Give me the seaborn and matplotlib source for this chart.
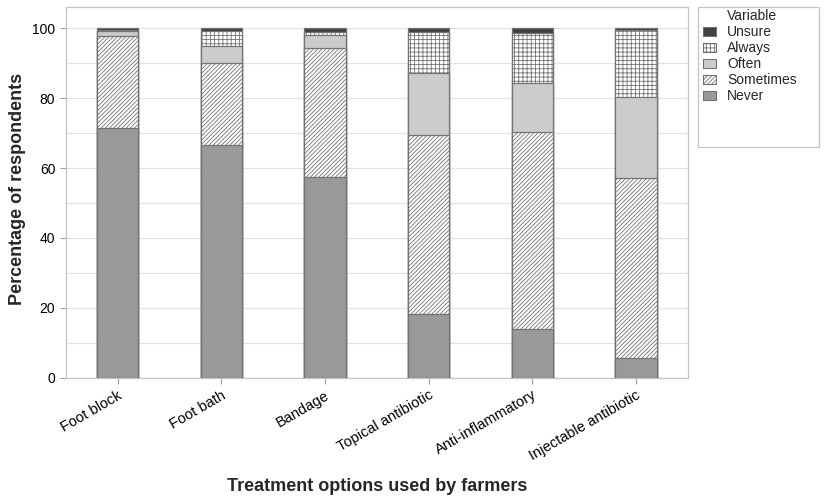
import numpy as np
import pandas as pd
import matplotlib.pyplot as plt
import seaborn as sns
from matplotlib.patches import Patch, Rectangle
from matplotlib.ticker import MultipleLocator

# data (percentages)
treatments = ["Foot block", "Foot bath", "Bandage", "Topical antibiotic",
              "Anti-inflammatory", "Injectable antibiotic"]
never = [71.5, 66.6, 57.4, 18.3, 13.9, 5.5]
sometimes = [26.3, 23.6, 36.9, 51.2, 56.3, 51.7]
often = [1.3, 4.7, 3.8, 17.6, 14.1, 23.2]
always = [0.4, 4.3, 0.8, 11.9, 14.3, 19.1]
unsure = [0.5, 0.8, 1.1, 1.0, 1.4, 0.5]

levels = ["Never", "Sometimes", "Often", "Always", "Unsure"]  # bottom -> top

sns.set_style("white")
plt.rcParams['font.family'] = ['Liberation Sans', 'DejaVu Sans']
plt.rcParams['hatch.linewidth'] = 0.6

df = pd.DataFrame({"treatment": treatments, "Never": never, "Sometimes": sometimes,
                   "Often": often, "Always": always, "Unsure": unsure})
cum = df[levels].cumsum(axis=1)
cum.insert(0, "treatment", treatments)

styles = {
    "Never": dict(color="#999999", hatch=None),
    "Sometimes": dict(color="#ffffff", hatch="////////"),
    "Often": dict(color="#cccccc", hatch=None),
    "Always": dict(color="#ffffff", hatch="++++"),
    "Unsure": dict(color="#404040", hatch=None),
}
edge = "#737373"

fig = plt.figure(figsize=(8.29, 5.03), dpi=100)
ax = fig.add_axes([0.0793, 0.2491, 0.7503, 0.7376])

# stacked bars: draw cumulative totals from the top layer down
for lev in levels[::-1]:
    st = styles[lev]
    sns.barplot(data=cum, x="treatment", y=lev, order=treatments, color=st["color"],
                saturation=1, width=0.4, errorbar=None, edgecolor=edge,
                linewidth=0.9, hatch=st["hatch"], ax=ax, zorder=3)

ax.set_xlim(-0.5, 5.5)
ax.set_ylim(0, 106.2)
ax.yaxis.set_major_locator(MultipleLocator(20))
ax.yaxis.set_minor_locator(MultipleLocator(10))
ax.grid(axis="y", which="both", color="#e3e3e3", linewidth=0.9, zorder=0)
ax.set_axisbelow(True)
for sp in ax.spines.values():
    sp.set_color("#c4c4c4")
    sp.set_linewidth(0.9)
ax.tick_params(axis="both", which="major", direction="out", length=4, width=0.8,
               color="#a0a0a0", labelsize=10, labelcolor="black", bottom=True, left=True)
ax.tick_params(axis="y", which="minor", length=0)

ax.set_xticks(range(len(treatments)))
ax.set_xticklabels(treatments, rotation=30, ha="right", rotation_mode="anchor",
                   fontsize=10.5)

ax.set_xlabel("Treatment options used by farmers", fontsize=13, fontweight="bold")
ax.xaxis.set_label_coords(0.5, -0.27)
ax.set_ylabel("Percentage of respondents", fontsize=13, fontweight="bold")
ax.yaxis.set_label_coords(-0.064, 0.51)

# legend
handles = [Patch(facecolor="none", edgecolor="none")]
labels = ["Variable"]
for lev in levels[::-1]:
    st = styles[lev]
    handles.append(Patch(facecolor=st["color"], edgecolor=edge, hatch=st["hatch"],
                         linewidth=0.8))
    labels.append(lev)
fig.legend(handles, labels, loc="upper left", bbox_to_anchor=(703 / 829, 1 - 9 / 503),
           bbox_transform=fig.transFigure, frameon=False, fontsize=10,
           handlelength=0.95, handleheight=0.6, handletextpad=0.8,
           labelspacing=0.15, borderpad=0, borderaxespad=0)
fig.patches.append(Rectangle((698 / 829, 1 - 147 / 503), 121 / 829, 140 / 503,
                             transform=fig.transFigure, fill=False,
                             edgecolor="#c4c4c4", linewidth=0.9))

fig.savefig("out.png", dpi=100)
